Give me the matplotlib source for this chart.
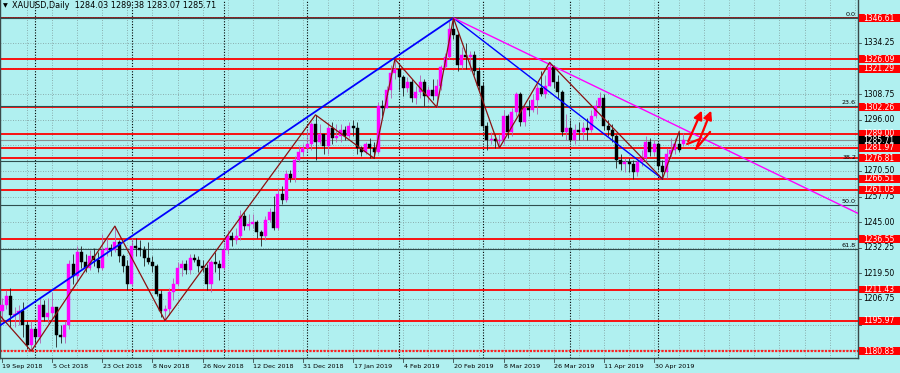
import matplotlib
matplotlib.use("Agg")
import matplotlib.pyplot as plt
from matplotlib.patches import Rectangle
from matplotlib.transforms import blended_transform_factory as btf

# ---------------- data ----------------
opens = [1201,1204,1208,1199,1199.5,1201,1194,1184,1192,1188,1204,1198,1200,1203,1189,1188,1194,1224,1218,1230,
         1225,1222,1228,1226,1222,1231,1232,1231,1235,1228,1223,1214,1233,1232,1231,1227,1225,1223,1209,1201,
         1202,1210,1214,1222,1224,1221,1227,1226,1223,1222,1214,1225,1224,1222,1231,1238,1236,1238,1248,1243,
         1244,1245,1240,1238,1246,1250,1242,1259,1256,1269,1267,1276,1280,1282,1284,1294,1285,1289,1283,1292,
         1287,1288,1291,1288,1293,1292,1282,1280,1284,1282,1280,1303,1302,1311,1319,1321,1317,1312,1315,1307,
         1310,1315,1308,1311,1308,1313,1322,1327,1341,1338,1323,1328,1327,1328,1320,1313,1293,1286,1286.5,1285.5,
         1286,1298,1290,1300,1309,1295,1302,1301,1306,1312,1309,1313,1322,1315,1310,1290,1292,1286,1291,1290,
         1292,1291,1298,1303,1307,1293,1291,1288,1276,1274,1275,1274,1270,1275,1277,1285,1280,1284,1273,1270,
         1279,1281,1284,1284.03]
highs = [1207,1211,1212,1203,1204,1205,1196,1196,1193,1207,1206,1207,1210,1203,1194,1196,1226,1229,1233,1233,
         1229,1231,1232,1230,1239,1237,1234,1243,1236,1229,1226,1237,1237,1236,1233,1235,1228,1224,1211,1204,
         1212,1217,1225,1226,1226,1229,1229,1228,1226,1224,1226,1230,1226,1235,1241,1240,1242,1251,1250,1249,
         1249,1246,1241,1248,1252,1258,1262,1263,1271,1271,1278,1283,1284,1291,1295,1298.4,1294,1289,1295,1295,
         1294,1294,1293,1295,1296,1295,1283,1285,1287,1285,1305,1306,1313,1323,1326.09,1324,1318,1317,1316,1313,
         1318,1316,1313,1316,1316,1323,1329,1345,1346.61,1339,1332,1334,1330,1330,1322,1315,1295,1290,1289,1289,
         1301,1299,1302,1310,1310,1303,1306,1309,1314,1320,1318,1324.5,1323,1318,1311,1299,1296,1294,1295,1295,
         1297,1301,1306,1310,1309,1296,1294,1289,1279,1277,1277,1276,1277,1281,1288,1287,1286,1285,1276,1282,
         1287,1287,1290,1289.38]
lows = [1196,1202,1193,1193,1194,1188,1182,1180.83,1185,1185,1196,1195,1196,1183,1185,1185,1192,1214,1215,1222,
        1220,1221,1223,1220,1221,1228,1228,1230,1225,1220,1211,1213,1228,1228,1223,1224,1220,1208,1198,1195.97,
        1199,1206,1213,1218,1219,1219,1225,1220,1220,1211,1210,1220,1216,1221,1229,1233,1234,1236,1241,1241,
        1242,1237,1233,1236,1245,1241,1241,1254,1255,1265,1265,1275,1278,1280,1281,1276,1284,1279,1279,1284,
        1285,1285,1286,1287,1288,1279,1278,1279,1277,1276.81,1279,1298,1302,1307,1316,1311,1308,1310,1305,1304,
        1307,1303,1305,1306,1302.26,1311,1321,1326,1336,1320,1321,1321,1320,1318,1311,1291,1281,1284,1282,1281.97,
        1284,1287,1288,1298,1293,1293,1298,1300,1299,1308,1307,1313,1312,1307,1288,1286,1285,1284,1286,1286,
        1286,1290,1297,1302,1291,1288,1285,1272,1271,1270,1270,1266.51,1268,1273,1275,1278,1278,1271,1266.6,1267,
        1277,1279,1280,1283.07]
closes = [1204,1208,1199,1199.5,1201,1194,1184,1192,1188,1204,1198,1200,1203,1189,1188,1194,1224,1218,1230,1225,
          1222,1228,1226,1222,1231,1232,1231,1235,1228,1223,1214,1233,1232,1231,1227,1225,1223,1209,1201,1202,
          1210,1214,1222,1224,1221,1227,1226,1223,1222,1214,1225,1224,1222,1231,1238,1236,1238,1248,1243,1244,
          1245,1240,1238,1246,1250,1242,1259,1256,1269,1267,1276,1280,1282,1284,1294,1285,1289,1283,1292,1287,
          1288,1291,1288,1293,1292,1282,1280,1284,1282,1280,1303,1302,1311,1319,1321,1317,1312,1315,1307,1310,
          1315,1308,1311,1308,1313,1322,1327,1341,1338,1323,1328,1327,1328,1320,1313,1293,1286,1286.5,1285.5,1286,
          1298,1290,1300,1309,1295,1302,1301,1306,1312,1309,1313,1322,1315,1310,1290,1292,1286,1291,1290,1292,
          1291,1298,1303,1307,1293,1291,1288,1276,1274,1275,1274,1270,1275,1277,1285,1280,1284,1273,1270,1279,
          1281,1284,1281,1285.71]

date_labels = ["19 Sep 2018", "5 Oct 2018", "23 Oct 2018", "8 Nov 2018", "26 Nov 2018", "12 Dec 2018",
               "31 Dec 2018", "17 Jan 2019", "4 Feb 2019", "20 Feb 2019", "8 Mar 2019", "26 Mar 2019",
               "11 Apr 2019", "30 Apr 2019"]
label_step = 12
month_start_bars = [8, 31, 53, 73, 95, 115, 136, 157]

price_ticks = [1181.25 + 12.75 * k for k in range(14)]
red_levels = [1346.61, 1326.09, 1321.29, 1302.26, 1289.00, 1281.97, 1276.81, 1266.51,
              1261.03, 1236.55, 1211.43, 1195.97, 1180.83]
bid_price = 1285.71

fib_high, fib_low = 1346.61, 1160.37
fib_ratios = [0.0, 23.6, 38.2, 50.0, 61.8]

zig_x = [-0.5, 7, 27, 39, 75, 89, 94, 104, 108, 119, 131, 158, 162]
zig_y = [1198.5, 1180.83, 1243.0, 1195.97, 1298.4, 1276.81, 1326.09, 1302.26, 1346.61, 1281.97, 1324.5, 1266.51, 1290.0]

blue1 = ([-24, 108], [1160.37, 1346.61])
blue2 = ([108, 158], [1346.61, 1266.51])
mag_pts = ([108, 131], [1346.61, 1323.5])

arrowA = ([167.0, 163.9, 167.7], [1286.4, 1283.9, 1301.8])
arrowB = ([169.4, 166.0, 169.9], [1289.9, 1281.4, 1301.8])

header = "XAUUSD,Daily  1284.03 1289.38 1283.07 1285.71"

# ---------------- styling ----------------
BG = "#B0F0F0"
W, H = 900, 373
fig = plt.figure(figsize=(W / 100, H / 100), dpi=100, facecolor=BG)
ax = fig.add_axes([0, 15 / H, 858 / W, 358 / H], facecolor=BG)
XMIN, XMAX = -0.478, 204.78
YMIN, YMAX = 1177.37, 1355.57
ax.set_xlim(XMIN, XMAX)
ax.set_ylim(YMIN, YMAX)
ax.set_xticks([]); ax.set_yticks([])
ax.spines["top"].set_visible(False)
for s in ["left", "right", "bottom"]:
    ax.spines[s].set_color("#3a4a4a")
    ax.spines[s].set_linewidth(1.0)

FS = 4.6      # dates / fib labels
PFS = 5.5     # price labels
trY = btf(ax.transAxes, ax.transData)
trX = btf(ax.transData, ax.transAxes)

# grid
for p in price_ticks:
    ax.axhline(p, color="#7f9a9a", lw=0.6, ls=(0, (1, 2)), zorder=1)
for i in range(6, 205, 6):
    ax.axvline(i, color="#7f9a9a", lw=0.6, ls=(0, (1, 2)), zorder=1)
for m in month_start_bars:
    ax.axvline(m, color="#000000", lw=0.8, ls=(0, (1, 1.5)), zorder=1.2)

# horizontal levels
for p in red_levels:
    if p == 1346.61:
        ax.axhline(p, color="#8B0000", lw=1.2, zorder=2)
    elif p == 1180.83:
        ax.axhline(p, color="#ff2020", lw=1.6, ls=(0, (1, 0.6)), zorder=2)
    else:
        ax.axhline(p, color="#ff0000", lw=1.3, zorder=2)
ax.axhline(bid_price, color="#8c9090", lw=0.8, zorder=2)

# fib levels
for r in fib_ratios:
    lvl = fib_high - r / 100.0 * (fib_high - fib_low)
    ax.axhline(lvl, color="#2f4f4f", lw=0.8, zorder=2.1)
    ax.text(856 / 858, lvl + 0.4, f"{r:.1f}", transform=trY, ha="right", va="bottom",
            fontsize=FS, color="black", zorder=6)

# candles
n = len(opens)
for i in range(n):
    o, h, l, c = opens[i], highs[i], lows[i], closes[i]
    col = "#ff00ff" if c >= o else "#000000"
    wcol = "#b060b0" if c >= o else "#202020"
    ax.vlines(i, l, h, color=wcol, lw=0.6, zorder=3)
    ax.bar(i, max(abs(c - o), 0.35), bottom=min(o, c), width=0.72, color=col,
           edgecolor=col, linewidth=0.3, zorder=3.5)

# trend lines
ax.plot(*blue1, color="#0000ff", lw=1.3, zorder=4)
ax.plot(*blue2, color="#0000ff", lw=1.0, zorder=4)
slope = (mag_pts[1][1] - mag_pts[1][0]) / (mag_pts[0][1] - mag_pts[0][0])
x_end = XMAX + 2
ax.plot([mag_pts[0][0], x_end], [mag_pts[1][0], mag_pts[1][0] + slope * (x_end - mag_pts[0][0])],
        color="#ff00ff", lw=1.0, zorder=4)
ax.plot(zig_x, zig_y, color="#8B1010", lw=0.9, zorder=4.5)

# red arrows
for xs, ys in (arrowA, arrowB):
    ax.plot(xs[:2], ys[:2], color="#ff0000", lw=1.6, zorder=5, solid_capstyle="round")
    ax.annotate("", xy=(xs[2], ys[2]), xytext=(xs[1], ys[1]),
                arrowprops=dict(arrowstyle="-|>,head_length=0.5,head_width=0.25",
                                color="#ff0000", lw=1.6), zorder=5)

# right price axis
covered = red_levels + [bid_price]
for p in price_ticks:
    if YMIN < p < YMAX:
        ax.plot([1.0, 1.0035], [p, p], transform=trY, color="#3a4a4a", lw=0.6, clip_on=False)
        if min(abs(p - q) for q in covered) > 2.5:
            ax.text(1.0055, p, f"{p:.2f}", transform=trY, ha="left", va="center",
                    fontsize=PFS, color="black", clip_on=False, zorder=6)

box_h = 3.9
def price_box(p, face):
    ax.add_patch(Rectangle((1.0008, p - box_h / 2), 41.5 / 858, box_h, transform=trY,
                           facecolor=face, edgecolor="none", clip_on=False, zorder=8))
    ax.text(1.0055, p, f"{p:.2f}", transform=trY, ha="left", va="center",
            fontsize=PFS, color="white", clip_on=False, zorder=9)

for p in red_levels:
    price_box(p, "#ff0000")
price_box(bid_price, "#000000")

# bottom time axis
for k, lab in enumerate(date_labels):
    xb = k * label_step
    ax.plot([xb, xb], [0, -0.012], transform=trX, color="#3a4a4a", lw=0.6, clip_on=False)
    ax.text(xb + 0.1, -0.018, lab, transform=trX, ha="left", va="top",
            fontsize=FS, color="black", clip_on=False)

# header
fig.text(3 / W, 1 - 6 / H, "\u25bc", fontsize=4.5, color="black", va="center", ha="left")
fig.text(12 / W, 1 - 6 / H, header, fontsize=5.9, color="black", va="center", ha="left")

fig.savefig("out.png", dpi=100, facecolor=BG)
